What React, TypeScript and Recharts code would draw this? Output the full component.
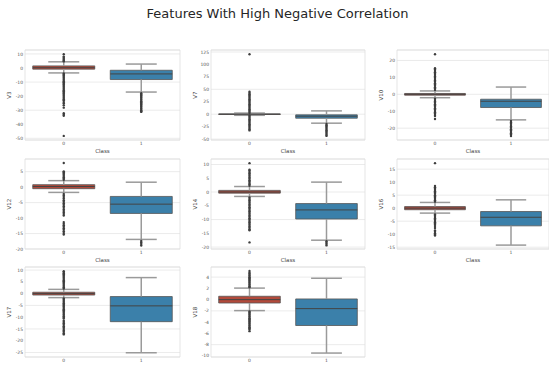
import React from 'react';
import {
  ComposedChart,
  Scatter,
  XAxis,
  YAxis,
  CartesianGrid,
  ReferenceArea,
  ReferenceLine,
} from 'recharts';

// feature names, one panel each
const features = ['V3', 'V7', 'V10', 'V12', 'V14', 'V16', 'V17', 'V18'];

// box stats per feature: [lower whisker, q1, median, q3, upper whisker]
const class0Stats = [
  [-3.5, -0.8, 0.2, 1.5, 4.4],
  [-2.2, -0.5, 0.1, 0.6, 2.3],
  [-2.0, -0.5, 0.0, 0.5, 2.0],
  [-1.7, -0.5, 0.2, 0.8, 2.1],
  [-1.6, -0.4, 0.0, 0.6, 2.0],
  [-1.9, -0.6, 0.0, 0.6, 2.2],
  [-1.7, -0.6, 0.0, 0.6, 1.8],
  [-1.95, -0.6, 0.0, 0.6, 2.05],
];

const class1Stats = [
  [-17.1, -8.2, -4.2, -1.6, 2.8],
  [-18.0, -8.0, -4.0, -1.3, 6.7],
  [-15.1, -7.8, -4.1, -2.9, 4.3],
  [-16.9, -8.5, -5.5, -3.0, 1.6],
  [-17.5, -9.8, -6.5, -4.2, 3.6],
  [-14.2, -6.8, -3.5, -1.3, 3.2],
  [-25.1, -11.9, -5.2, -1.25, 6.8],
  [-9.5, -4.6, -1.6, 0.12, 3.8],
];

// outliers
const class0Outliers = [
  [4.7, 5.2, 5.8, 6.5, 7.3, 8.1, 9.8, -3.9, -4.6, -5.4, -6.2, -7.0, -7.8, -8.6, -9.4, -10.2, -11.0, -11.8, -12.6,
    -13.4, -14.2, -15.0, -15.8, -16.6, -17.4, -18.2, -19.0, -19.8, -20.6, -21.4, -22.2, -23.0, -24.2, -25.1,
    -26.5, -28.2, -32.2, -33.2, -34.0, -48.3],
  [2.5, 5, 7.5, 10, 12.5, 15, 17.5, 20, 22.5, 25, 27.5, 30, 32.5, 35, 37.5, 40, 42.5, 45, 120.6,
    -2.5, -5, -7.5, -10, -12.5, -15, -17.5, -20, -22.5, -25, -27.5, -30, -32.5],
  [2.6, 3.4, 4.2, 5.0, 5.8, 6.6, 7.4, 8.2, 9.0, 9.8, 10.6, 11.4, 12.2, 13.0, 13.8, 14.6, 15.4, 23.7,
    -2.6, -3.4, -4.2, -5.0, -5.8, -6.6, -7.4, -8.2, -9.0, -9.8, -10.6, -11.4, -12.2, -12.8, -14.6],
  [2.4, 2.8, 3.2, 3.6, 4.0, 4.4, 4.8, 5.1, 7.8,
    -2.2, -2.7, -3.2, -3.7, -4.2, -4.7, -5.2, -5.7, -6.2, -6.7, -7.2, -7.7, -8.2, -8.7, -9.2,
    -11.3, -11.8, -12.3, -12.8, -13.3, -13.8, -14.3, -14.8, -15.3],
  [2.3, 2.8, 3.3, 3.8, 4.3, 4.8, 5.3, 5.8, 6.3, 6.8, 7.3, 7.8, 8.1, 10.5,
    -2.0, -2.5, -3.0, -3.5, -4.0, -4.5, -5.0, -5.5, -6.0, -6.5, -7.0, -7.5, -8.0, -8.5, -9.0, -9.5,
    -10.0, -10.5, -11.0, -11.5, -12.0, -12.5, -13.0, -13.5, -13.9, -18.3],
  [2.5, 3.0, 3.5, 4.0, 4.5, 5.0, 5.5, 6.0, 6.5, 7.0, 7.5, 8.0, 8.5, 17.3,
    -2.4, -2.9, -3.4, -3.9, -4.4, -4.9, -5.4, -5.9, -6.4, -6.9, -7.6, -8.6, -9.1, -9.6, -10.1, -10.5],
  [2.2, 2.7, 3.2, 3.7, 4.2, 4.7, 5.2, 5.7, 6.2, 6.7, 7.2, 7.7, 8.2, 8.7, 9.2, 9.5,
    -2.1, -2.6, -3.1, -3.6, -4.1, -4.6, -5.1, -5.6, -6.1, -6.6, -7.1, -7.6, -8.1, -8.6, -9.1, -9.6, -10.1,
    -10.6, -11.5, -12.0, -12.6, -13.2, -13.8, -14.4, -15.0, -15.6, -16.2, -16.8, -17.3],
  [2.2, 2.4, 2.6, 2.8, 3.0, 3.2, 3.4, 3.6, 3.8, 4.0, 4.2, 4.4, 4.6, 4.8, 5.1,
    -2.1, -2.3, -2.5, -2.7, -2.9, -3.1, -3.3, -3.5, -3.7, -3.9, -4.1, -4.3, -4.5, -4.7, -4.9, -5.1, -5.3, -5.6],
];

const class1Outliers = [
  [-18.0, -18.8, -19.6, -20.4, -21.2, -22.0, -22.8, -23.6, -24.4, -25.2, -26.0, -26.8, -27.6, -28.4, -29.2,
    -30.0, -30.8, -31.2],
  [-19.5, -22, -24.5, -27, -29.5, -32, -34.5, -37, -39.5, -42, -43.6],
  [-15.8, -16.6, -17.4, -18.2, -19.0, -19.8, -20.6, -21.4, -22.2, -23.0, -23.8, -24.6],
  [-17.4, -17.9, -18.4, -18.9],
  [-17.9, -18.4, -18.9, -19.4],
  [],
  [],
  [],
];

const yTicks = [
  [-50, -40, -30, -20, -10, 0, 10],
  [-50, -25, 0, 25, 50, 75, 100, 125],
  [-20, -10, 0, 10, 20],
  [-20, -15, -10, -5, 0, 5],
  [-20, -15, -10, -5, 0, 5, 10],
  [-15, -10, -5, 0, 5, 10, 15],
  [-25, -20, -15, -10, -5, 0, 5, 10],
  [-10, -8, -6, -4, -2, 0, 2, 4],
];

const yDomains = [
  [-51.2, 12.8],
  [-51.8, 129],
  [-27, 26.2],
  [-20, 9.1],
  [-20.7, 12],
  [-15.7, 18.9],
  [-26.9, 11.3],
  [-10.2, 5.8],
];

const BOX_COLORS = ['#b24a3b', '#3b80aa'];
const COL_LEFT = [25, 211, 397];
const COL_WIDTH = [155, 154, 152];
const ROW_TOP = [50, 159, 267];
const PLOT_H = 90;
const AXIS_W = 24;
const TOP_PAD = 4;

function BoxMarks(stats: number[], cls: number, color: string) {
  const [lo, q1, med, q3, hi] = stats;
  const half = 0.4;
  const cap = 0.2;
  const wl = { stroke: '#9a9a9a', strokeWidth: 1.5 };
  return [
    <ReferenceLine key={`wu${cls}`} segment={[{ x: cls, y: q3 }, { x: cls, y: hi }]} {...wl} />,
    <ReferenceLine key={`wd${cls}`} segment={[{ x: cls, y: lo }, { x: cls, y: q1 }]} {...wl} />,
    <ReferenceLine key={`cu${cls}`} segment={[{ x: cls - cap, y: hi }, { x: cls + cap, y: hi }]} {...wl} />,
    <ReferenceLine key={`cd${cls}`} segment={[{ x: cls - cap, y: lo }, { x: cls + cap, y: lo }]} {...wl} />,
    <ReferenceArea
      key={`b${cls}`}
      x1={cls - half}
      x2={cls + half}
      y1={q1}
      y2={q3}
      fill={color}
      fillOpacity={1}
      stroke="#555"
      strokeWidth={0.8}
    />,
    <ReferenceLine
      key={`m${cls}`}
      segment={[{ x: cls - half, y: med }, { x: cls + half, y: med }]}
      stroke="#444"
      strokeWidth={1}
    />,
  ];
}

const Dot = (p: any) => <circle cx={p.cx} cy={p.cy} r={1.2} fill="#3d3d3d" />;

function Panel({ idx }: { idx: number }) {
  const row = Math.floor(idx / 3);
  const col = idx % 3;
  const plotW = COL_WIDTH[col];
  const points = [
    ...class0Outliers[idx].map((v) => ({ x: 0, y: v })),
    ...class1Outliers[idx].map((v) => ({ x: 1, y: v })),
  ];
  const [d0, d1] = yDomains[idx];
  // bottom row's "Class" label falls below the page edge in the reference
  const showClass = row < 2;

  return (
    <div
      style={{
        position: 'absolute',
        left: COL_LEFT[col] - AXIS_W,
        top: ROW_TOP[row] - TOP_PAD,
      }}
    >
      <ComposedChart
        width={AXIS_W + plotW + 2}
        height={TOP_PAD + PLOT_H + 14}
        data={points}
        margin={{ top: TOP_PAD, right: 2, bottom: 0, left: 0 }}
      >
        <CartesianGrid vertical={false} stroke="#e6e6e6" strokeWidth={0.8} />
        <ReferenceArea x1={-0.5} x2={1.5} y1={d0} y2={d1} fill="none" stroke="#dedede" strokeWidth={0.8} />
        <XAxis
          type="number"
          dataKey="x"
          domain={[-0.5, 1.5]}
          ticks={[0, 1]}
          axisLine={false}
          tickLine={false}
          tickSize={0}
          tickMargin={2}
          height={14}
          tick={{ fontSize: 4.5, fill: '#555' }}
          label={
            showClass
              ? { value: 'Class', position: 'insideBottom', offset: 1, fontSize: 5.5, fill: '#444' }
              : undefined
          }
        />
        <YAxis
          type="number"
          dataKey="y"
          domain={[d0, d1]}
          ticks={yTicks[idx]}
          allowDataOverflow
          axisLine={false}
          tickLine={false}
          tickSize={0}
          tickMargin={2}
          width={AXIS_W}
          tick={{ fontSize: 4.5, fill: '#555' }}
          label={{
            value: features[idx],
            angle: -90,
            position: 'insideLeft',
            offset: 8,
            fontSize: 5.5,
            fill: '#444',
            style: { textAnchor: 'middle' },
          }}
        />
        {BoxMarks(class0Stats[idx], 0, BOX_COLORS[0])}
        {BoxMarks(class1Stats[idx], 1, BOX_COLORS[1])}
        <Scatter data={points} dataKey="y" shape={Dot} isAnimationActive={false} />
      </ComposedChart>
    </div>
  );
}

export default function App() {
  return (
    <div
      style={{
        position: 'absolute',
        left: 0,
        top: 0,
        width: 549,
        height: 366,
        background: '#fff',
        fontFamily: '"DejaVu Sans", sans-serif',
        overflow: 'hidden',
      }}
    >
      <div
        style={{
          position: 'absolute',
          top: 6,
          left: 0,
          width: 555,
          textAlign: 'center',
          fontSize: 13,
          color: '#262626',
        }}
      >
        Features With High Negative Correlation
      </div>
      {features.map((_, i) => (
        <Panel key={i} idx={i} />
      ))}
    </div>
  );
}
